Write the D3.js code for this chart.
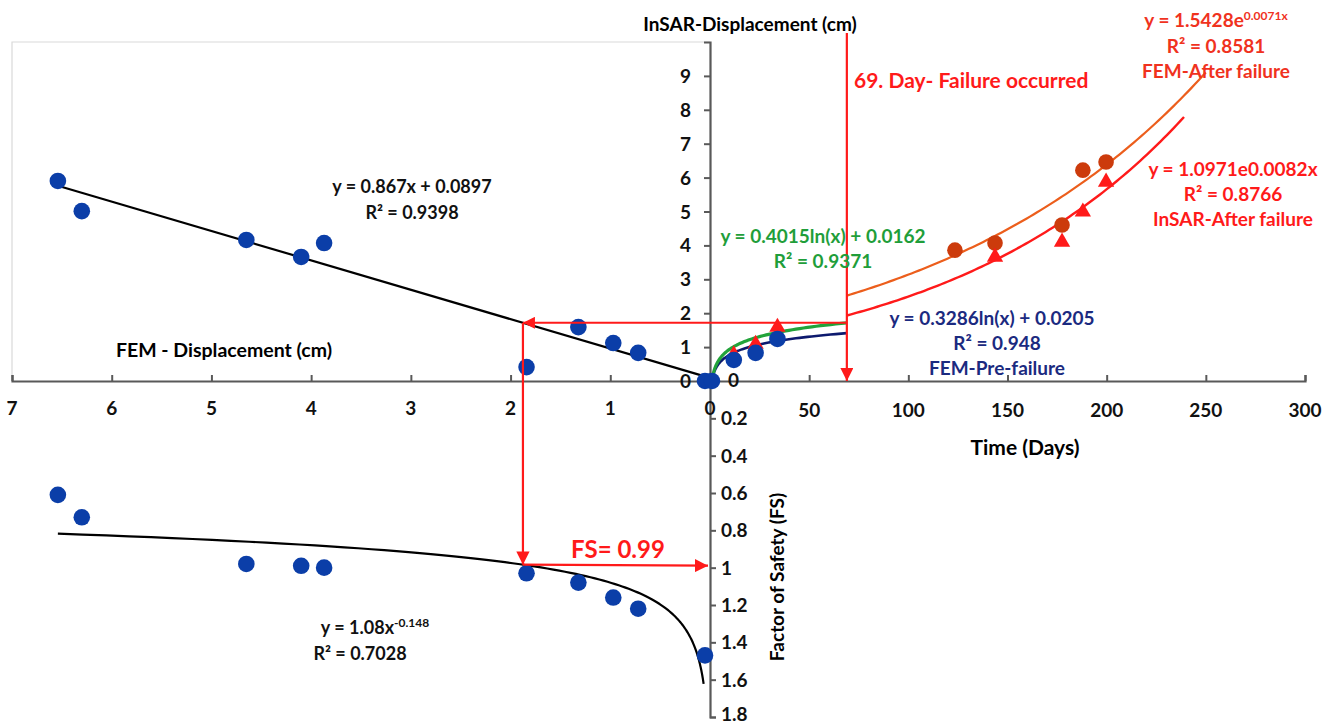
<!DOCTYPE html>
<html><head><meta charset="utf-8">
<script src="https://cdn.jsdelivr.net/npm/d3@7"></script>
<style>
html,body{margin:0;padding:0;background:#fff;}
text{font-family:Lato,"Open Sans",sans-serif;font-weight:700;}
</style></head>
<body>
<svg id="chart" width="1338" height="726"></svg>
<script>
// ---- data ----
const femDisp   = [6.54, 6.30, 4.65, 4.10, 3.87, 1.84, 1.32, 0.97, 0.72, 0.05];
const insarDisp = [5.90, 5.01, 4.16, 3.66, 4.07, 0.41, 1.59, 1.12, 0.83, 0.00];
const fsValues  = [0.61, 0.73, 0.98, 0.99, 1.00, 1.03, 1.08, 1.16, 1.22, 1.47];

const preDays      = [1, 12, 23, 34];
const preFem       = [0.00, 0.62, 0.83, 1.24];
const preInsarDays = [12, 23, 34];
const preInsar     = [0.78, 1.09, 1.59];

const afterDays      = [123.5, 143.7, 177.5, 188, 199.7];
const afterFem       = [3.86, 4.07, 4.60, 6.22, 6.46];
const afterInsarDays = [143.7, 177.5, 188, 199.7];
const afterInsar     = [3.66, 4.10, 4.99, 5.87];

const failureDay = 69;
const linFit   = [0.867, 0.0897];       // y = a x + b
const powFit   = [1.08, -0.148];        // FS = a x^b
const lnInsar  = [0.4015, 0.0162];      // y = a ln(x) + b
const lnFem    = [0.3286, 0.0205];
const expFem   = [1.5428, 0.0071];      // y = a e^(b x)
const expInsar = [1.0971, 0.0082];

const femTicks   = [7, 6, 5, 4, 3, 2, 1, 0];
const timeTicks  = [50, 100, 150, 200, 250, 300];
const insarTicks = [0, 1, 2, 3, 4, 5, 6, 7, 8, 9];
const fsTicks    = [0.2, 0.4, 0.6, 0.8, 1, 1.2, 1.4, 1.6, 1.8];

// ---- scales ----
const svg = d3.select("#chart");
const xFem  = d3.scaleLinear().domain([0, 7]).range([710, 12]);
const xTime = d3.scaleLinear().domain([0, 300]).range([710, 1305]);
const yDisp = d3.scaleLinear().domain([0, 10]).range([381, 42]);
const yFS   = d3.scaleLinear().domain([0, 1.8]).range([381, 717]);

const axisCol = "#595959";
const blue = "#0b3ea8";

// markers
const defs = svg.append("defs");
defs.append("marker").attr("id","arr").attr("viewBox","0 0 10 10")
  .attr("refX",10).attr("refY",5).attr("markerWidth",6).attr("markerHeight",6)
  .attr("markerUnits","strokeWidth").attr("orient","auto")
  .append("path").attr("d","M0,0L10,5L0,10z").attr("fill","#ff1a1a");

// light plot border
svg.append("path").attr("d", `M${xFem(7)},${yDisp(0)}V${yDisp(10)}H${xFem(0)}`)
  .attr("fill","none").attr("stroke","#d9d9d9").attr("stroke-width",1.2);

// ---- axes ----
const gL = svg.append("g").attr("transform",`translate(0,${yDisp(0)})`)
  .call(d3.axisTop(xFem).tickValues(femTicks).tickSize(6).tickFormat(""));
const gR = svg.append("g").attr("transform",`translate(0,${yDisp(0)})`)
  .call(d3.axisTop(xTime).tickValues([0].concat(timeTicks)).tickSize(6).tickFormat(""));
const gU = svg.append("g").attr("transform",`translate(${xFem(0)},0)`)
  .call(d3.axisLeft(yDisp).tickValues(insarTicks).tickSize(6).tickFormat(""));
const gD = svg.append("g").attr("transform",`translate(${xFem(0)},0)`)
  .call(d3.axisRight(yFS).tickValues([0].concat(fsTicks)).tickSize(6).tickFormat(""));
[gL,gR,gU,gD].forEach(g=>{
  g.selectAll("path.domain").attr("stroke",axisCol).attr("stroke-width",2.2);
  g.selectAll(".tick line").attr("stroke",axisCol).attr("stroke-width",2);
});

// tick labels
const tl = svg.append("g").attr("font-size",19).attr("fill","#111");
tl.selectAll(".tf").data(femTicks).join("text")
  .attr("x",d=>xFem(d)).attr("y",415).attr("text-anchor","middle").text(d=>d);
tl.selectAll(".tt").data(timeTicks).join("text")
  .attr("x",d=>xTime(d)).attr("y",417).attr("text-anchor","middle").text(d=>d);
tl.selectAll(".ti").data(insarTicks).join("text")
  .attr("x",691).attr("y",d=>yDisp(d)+7).attr("text-anchor","end").text(d=>d);
tl.selectAll(".ts").data([0].concat(fsTicks)).join("text")
  .attr("x",d=>d===0?728:721).attr("y",d=>Math.min(yFS(d)+(d===0?6:7), 721)).attr("text-anchor","start").text(d=>d);

// axis titles
svg.append("text").attr("x",750).attr("y",31).attr("text-anchor","middle").attr("font-size",19).text("InSAR-Displacement (cm)");
svg.append("text").attr("x",224).attr("y",357).attr("text-anchor","middle").attr("font-size",19.5).text("FEM - Displacement (cm)");
svg.append("text").attr("x",1025).attr("y",455).attr("text-anchor","middle").attr("font-size",21).text("Time (Days)");
svg.append("text").attr("transform","translate(784,577) rotate(-90)").attr("text-anchor","middle").attr("font-size",19).text("Factor of Safety (FS)");

// ---- fit curves ----
const line = d3.line().x(d=>d[0]).y(d=>d[1]);
const samp = (a,b,n)=>d3.range(n+1).map(i=>a+(b-a)*i/n);

svg.append("path").attr("d", line([[xFem(6.54), yDisp(linFit[0]*6.54+linFit[1])],[xFem(0.07), yDisp(linFit[0]*0.07+linFit[1])]]))
  .attr("stroke","#000").attr("stroke-width",2.2).attr("fill","none");

const powPts = samp(Math.log(0.064), Math.log(6.54), 120).map(l=>Math.exp(l))
  .map(x=>[xFem(x), yFS(powFit[0]*Math.pow(x,powFit[1]))]);
svg.append("path").attr("d", line(powPts)).attr("stroke","#000").attr("stroke-width",2.2).attr("fill","none");

const lnPts = (p)=>samp(Math.log(1), Math.log(failureDay), 100).map(l=>Math.exp(l))
  .map(t=>[xTime(t), yDisp(p[0]*Math.log(t)+p[1])]);
svg.append("path").attr("d", line(lnPts(lnFem))).attr("stroke","#0d1a6e").attr("stroke-width",2.6).attr("fill","none");
svg.append("path").attr("d", line(lnPts(lnInsar))).attr("stroke","#22a33a").attr("stroke-width",3.2).attr("fill","none");

const expPts = (p,t1)=>samp(failureDay, t1, 100).map(t=>[xTime(t), yDisp(p[0]*Math.exp(p[1]*t))]);
svg.append("path").attr("d", line(expPts(expFem,250))).attr("stroke","#ec5e1c").attr("stroke-width",2.2).attr("fill","none");
svg.append("path").attr("d", line(expPts(expInsar,239))).attr("stroke","#ff1a1a").attr("stroke-width",2.4).attr("fill","none");

// ---- points ----
const tri = d3.symbol().type(d3.symbolTriangle).size(115);
svg.append("g").selectAll("circle").data(femDisp).join("circle")
  .attr("cx",d=>xFem(d)).attr("cy",(d,i)=>yDisp(insarDisp[i])).attr("r",8.3).attr("fill",blue);
svg.append("g").selectAll("circle").data(femDisp).join("circle")
  .attr("cx",d=>xFem(d)).attr("cy",(d,i)=>yFS(fsValues[i])).attr("r",8.3).attr("fill",blue);
svg.append("g").selectAll("path").data(preInsarDays).join("path")
  .attr("d",tri).attr("transform",(d,i)=>`translate(${xTime(d)},${yDisp(preInsar[i])})`).attr("fill","#ff1a1a");
svg.append("g").selectAll("circle").data(preDays).join("circle")
  .attr("cx",d=>xTime(d)).attr("cy",(d,i)=>yDisp(preFem[i])).attr("r",8.3).attr("fill",blue);
svg.append("g").selectAll("circle").data(afterDays).join("circle")
  .attr("cx",d=>xTime(d)).attr("cy",(d,i)=>yDisp(afterFem[i])).attr("r",7.8).attr("fill","#cc3b0c");
svg.append("g").selectAll("path").data(afterInsarDays).join("path")
  .attr("d",tri).attr("transform",(d,i)=>`translate(${xTime(d)},${yDisp(afterInsar[i])})`).attr("fill","#ff1a1a");

// ---- red guide arrows ----
const v69 = lnInsar[0]*Math.log(failureDay)+lnInsar[1];
const xCross = (v69 - linFit[1]) / linFit[0];
const fsCross = powFit[0]*Math.pow(xCross, powFit[1]);
const red = "#ff1a1a";
svg.append("line").attr("x1",xTime(failureDay)).attr("y1",yDisp(v69)).attr("x2",xFem(xCross)).attr("y2",yDisp(v69))
  .attr("stroke",red).attr("stroke-width",2).attr("marker-end","url(#arr)");
svg.append("line").attr("x1",xFem(xCross)).attr("y1",yDisp(v69)).attr("x2",xFem(xCross)).attr("y2",yFS(fsCross))
  .attr("stroke",red).attr("stroke-width",2.2).attr("marker-end","url(#arr)");
svg.append("line").attr("x1",xFem(xCross)).attr("y1",yFS(fsCross)).attr("x2",xFem(0)-2).attr("y2",yFS(fsCross)+1)
  .attr("stroke",red).attr("stroke-width",2.2).attr("marker-end","url(#arr)");
svg.append("line").attr("x1",xTime(failureDay)).attr("y1",33).attr("x2",xTime(failureDay)).attr("y2",yDisp(0))
  .attr("stroke",red).attr("stroke-width",2.2).attr("marker-end","url(#arr)");

// ---- annotations ----
const ann = (x,y,txt,col,size,anchor)=>svg.append("text").attr("x",x).attr("y",y)
  .attr("text-anchor",anchor||"middle").attr("font-size",size).attr("fill",col).text(txt);
ann(854,88,"69. Day- Failure occurred",red,21,"start");
ann(618,558,"FS= 0.99",red,24);
ann(412,193,"y = 0.867x + 0.0897","#111",18);
ann(412,219,"R² = 0.9398","#111",18);
const pw = svg.append("text").attr("x",375).attr("y",634).attr("text-anchor","middle").attr("font-size",18).attr("fill","#111");
pw.append("tspan").text("y = 1.08x");
pw.append("tspan").attr("dy",-7).attr("font-size",12).text("-0.148");
ann(360,660,"R² = 0.7028","#111",18);
ann(823,243,"y = 0.4015ln(x) + 0.0162","#1f9e3a",19);
ann(823,268,"R² = 0.9371","#1f9e3a",19);
ann(992,325,"y = 0.3286ln(x) + 0.0205","#1b2a80",19);
ann(997,350,"R² = 0.948","#1b2a80",19);
ann(997,375,"FEM-Pre-failure","#1b2a80",19);
const ef = svg.append("text").attr("x",1216).attr("y",27).attr("text-anchor","middle").attr("font-size",19).attr("fill","#f0321e");
ef.append("tspan").text("y = 1.5428e");
ef.append("tspan").attr("dy",-7).attr("font-size",12).text("0.0071x");
ann(1216,53,"R² = 0.8581","#f0321e",19);
ann(1216,78,"FEM-After failure","#f0321e",19);
ann(1233,176,"y = 1.0971e0.0082x",red,19);
ann(1233,201,"R² = 0.8766",red,19);
ann(1233,226,"InSAR-After failure",red,19);
</script>
</body></html>
